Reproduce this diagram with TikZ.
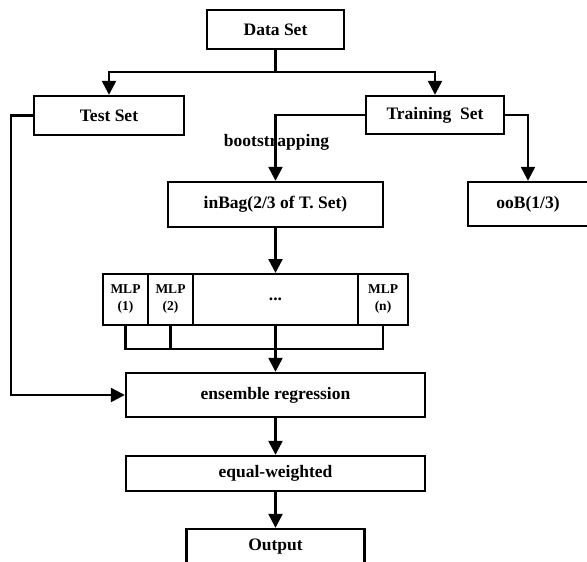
\documentclass[tikz,border=0pt]{standalone}
\usepackage{fontspec}
\setmainfont{Liberation Serif}
\usetikzlibrary{arrows.meta,calc}
\tikzset{
  box/.style={draw=black, line width=2.4pt, fill=white, inner sep=0pt, align=center,
    font=\fontsize{17.5}{20}\selectfont\bfseries},
  cell/.style={draw=black, line width=2pt, inner sep=0pt, align=center,
    font=\fontsize{13.5}{17}\selectfont\bfseries},
  conn/.style={line width=2.4pt, line join=miter},
  arr/.style={conn, -{Triangle[length=14pt,width=14pt]}},
  lbl/.style={inner sep=0pt, font=\fontsize{17.5}{20}\selectfont\bfseries}
}
\begin{document}
\begin{tikzpicture}[x=1pt,y=-1pt]
\useasboundingbox (0,0) rectangle (587,562);
\clip (0,0) rectangle (587,562);
% boxes
\node[box, minimum width=137pt, minimum height=39pt] (data) at (275.5,29.5) {Data Set};
\node[box, minimum width=150pt, minimum height=39pt] (test) at (109,115.5) {Test Set};
\node[box, minimum width=138pt, minimum height=38pt] (train) at (435,115) {Training\ \ Set};
\node[box, minimum width=215pt, minimum height=45pt] (inbag) at (275.5,204.5) {inBag(2/3 of T. Set)};
\node[box, minimum width=120pt, minimum height=44pt] (oob) at (528,204) {ooB(1/3)};
% MLP row
\node[cell, minimum width=45pt, minimum height=51pt] (mlp1) at (125.5,299.5) {MLP\\(1)};
\node[cell, minimum width=45pt, minimum height=51pt] (mlp2) at (170.5,299.5) {MLP\\(2)};
\node[cell, minimum width=165pt, minimum height=51pt, font=\fontsize{17.5}{20}\selectfont\bfseries] (dots) at (275.5,299.5) {...};
\node[cell, minimum width=50pt, minimum height=51pt] (mlpn) at (383,299.5) {MLP\\(n)};
\node[box, minimum width=299pt, minimum height=44pt] (ens) at (275.5,395) {ensemble regression};
\node[box, minimum width=299pt, minimum height=35pt] (eqw) at (275.5,473.5) {equal-weighted};
\node[box, minimum width=178pt, minimum height=36pt] (out) at (275.5,547) {Output};
% label
\node[lbl] (boot) at (276.5,142) {bootstrapping};
% connectors
\coordinate (split) at (275.5,72);
\draw[conn] (data.south) -- (split);
\draw[arr] (split) -| (test.north);
\draw[arr] (split) -| (train.north);
\draw[arr] (train.west) -| (inbag.north);
\draw[arr] (train.east) -| (oob.north);
\draw[arr] (inbag.south) -- (dots.north);
\coordinate (merge) at (275.5,349);
\draw[conn] (mlp1.south) -- (mlp1.south|-merge) -- (mlpn.south|-merge) -- (mlpn.south);
\draw[conn] (mlp2.south) -- (mlp2.south|-merge);
\draw[conn] (dots.south) -- (merge);
\draw[arr] (merge) -- (ens.north);
\coordinate (fbtop) at (10.7,115.5);
\draw[arr] (test.west) -- (fbtop) |- (ens.west);
\draw[arr] (ens.south) -- (eqw.north);
\draw[arr] (eqw.south) -- (out.north);
\end{tikzpicture}
\end{document}
